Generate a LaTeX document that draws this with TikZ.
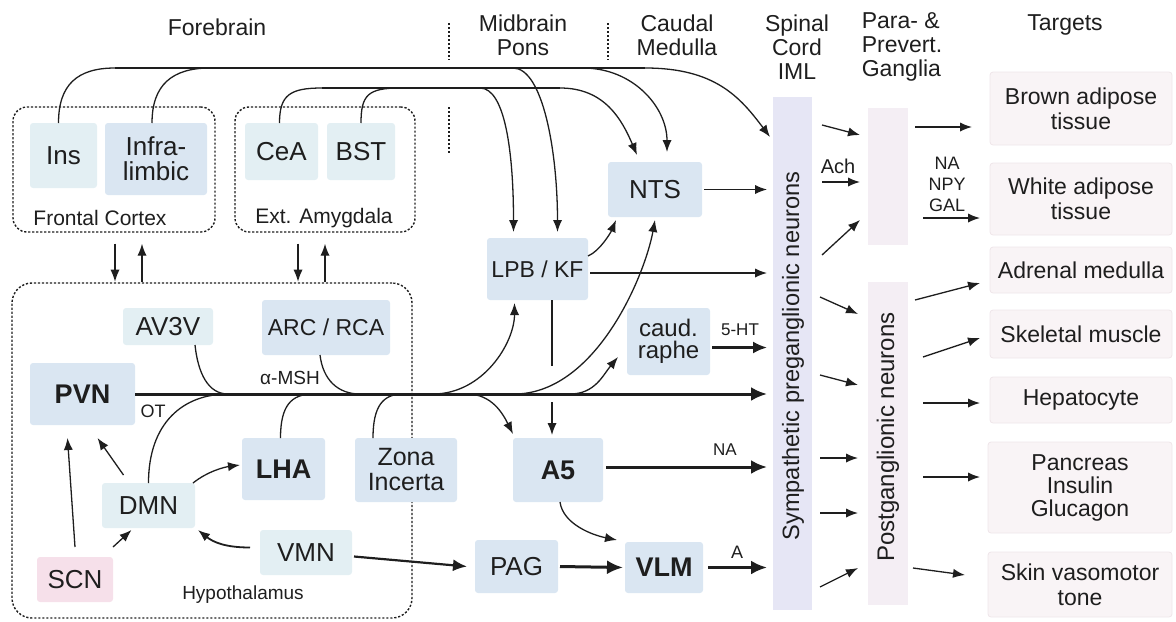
\documentclass[tikz,border=0pt]{standalone}
\usepackage{fontspec}
\setmainfont{Liberation Sans}
\usetikzlibrary{arrows.meta,calc,fit}
\definecolor{nblue}{HTML}{DAE6F2}
\definecolor{ncyan}{HTML}{E3EFF3}
\definecolor{npink}{HTML}{F6E0EA}
\definecolor{nlav}{HTML}{E6E6F5}
\definecolor{ngang}{HTML}{F4EEF4}
\definecolor{ntarg}{HTML}{F9F4F6}
\definecolor{ntargb}{HTML}{EFE6EA}
\definecolor{ink}{HTML}{1E1E1E}
\begin{document}
\begin{tikzpicture}[x=0.5pt,y=-0.5pt,
  rect/.style n args={4}{at={({(#1+#3)/2},{(#2+#4)/2})}, anchor=center,
     minimum width={0.5pt*(#3-#1)}, minimum height={0.5pt*(#4-#2)}},
  box/.style={inner sep=0pt, outer sep=0pt, rounded corners=1.5pt, align=center, text=ink},
  bl/.style={box, fill=nblue},
  cy/.style={box, fill=ncyan},
  pk/.style={box, fill=npink},
  tg/.style={box, fill=ntarg, draw=ntargb, line width=0.4pt, font=\fontsize{11.5}{12.5}\selectfont},
  big/.style={font=\fontsize{13}{12.5}\selectfont},
  mid/.style={font=\fontsize{11.5}{12}\selectfont},
  bigb/.style={font=\fontsize{13.5}{14}\selectfont\bfseries},
  hdr/.style={align=center, text=ink, inner sep=0pt, font=\fontsize{11.5}{12}\selectfont},
  lab/.style={text=ink, inner sep=0pt, font=\fontsize{9}{10}\selectfont},
  slab/.style={text=ink, inner sep=0pt, font=\fontsize{8.5}{9}\selectfont},
  vlab/.style={rotate=90, text=ink, inner sep=0pt},
  dbox/.style={inner sep=0pt, draw=ink, line width=0.7pt, dash pattern=on 1.1pt off 0.9pt},
  divl/.style={draw=ink, line width=0.7pt, dash pattern=on 1.1pt off 0.9pt},
  ln/.style={draw=ink, line width=0.65pt},
  arr/.style={ln, -{Latex[length=6pt,width=4.6pt]}},
  marr/.style={draw=ink, line width=1.1pt, -{Latex[length=7pt,width=6pt]}},
  tarr/.style={draw=ink, line width=1.5pt, -{Latex[length=8pt,width=7pt]}}
]
\useasboundingbox (0,0) rectangle (1176,621);

% headers
\node[hdr] (hfore) at (217,27) {Forebrain};
\node[hdr] (hmid) at (523,35) {Midbrain\\Pons};
\node[hdr] (hcaud) at (677,35) {Caudal\\Medulla};
\node[hdr] (hspin) at (797,47) {Spinal\\Cord\\IML};
\node[hdr, align=left] (hpara) at (902,47) {Para- \&\\Prevert.\\Ganglia};
\node[hdr] (htarg) at (1065,25) {Targets};
\draw[divl] (449,23) -- (449,60);
\draw[divl] (449,107) -- (449,153);
\draw[divl] (608,23) -- (608,60);

% dashed regions
\node[dbox, rounded corners=7pt, fit={(13,107) (215,232)}] (fc) {};
\node[dbox, rounded corners=7pt, fit={(235,107) (415,232)}] (ea) {};
\node[dbox, rounded corners=10pt, fit={(12,283) (412,618)}] (hyp) {};
\node[lab, font=\fontsize{10.5}{11}\selectfont] (fctxt) at (100,218) {Frontal Cortex};
\node[lab, font=\fontsize{10.5}{11}\selectfont] (eatxt) at (324,218) {Ext. Amygdala};
\node[lab, font=\fontsize{9.5}{10}\selectfont] (hyptxt) at (243,595) {Hypothalamus};

% forebrain nodes
\node[cy, big, rect={30}{123}{97}{188}] (ins) {Ins};
\node[bl, big, rect={105}{123}{207}{195}] (infra) {Infra-\\limbic};
\node[cy, big, rect={245}{123}{318}{180}] (cea) {CeA};
\node[cy, big, rect={327}{123}{395}{180}] (bst) {BST};

% hypothalamus nodes
\node[cy, big, rect={123}{308}{213}{345}] (av3v) {AV3V};
\node[bl, mid, rect={262}{300}{390}{355}] (arc) {ARC / RCA};
\node[bl, bigb, rect={30}{363}{135}{425}] (pvn) {PVN};
\node[bl, bigb, rect={242}{438}{325}{500}] (lha) {LHA};
\node[bl, font=\fontsize{12.5}{12.5}\selectfont, rect={355}{438}{457}{502}] (zi) {Zona\\Incerta};
\node[cy, big, rect={102}{483}{195}{528}] (dmn) {DMN};
\node[pk, big, rect={37}{557}{113}{602}] (scn) {SCN};
\node[cy, big, rect={260}{530}{352}{575}] (vmn) {VMN};

% brainstem nodes
\node[bl, mid, rect={487}{238}{588}{300}] (lpb) {LPB / KF};
\node[bl, big, rect={608}{162}{702}{217}] (nts) {NTS};
\node[bl, font=\fontsize{12}{11}\selectfont, rect={627}{308}{710}{375}] (raphe) {caud.\\raphe};
\node[bl, bigb, rect={513}{438}{603}{502}] (a5) {A5};
\node[bl, big, rect={475}{540}{558}{593}] (pag) {PAG};
\node[bl, bigb, rect={625}{542}{703}{593}] (vlm) {VLM};

% spinal and ganglia
\node[box, fill=nlav, rounded corners=0pt, rect={773}{97}{812}{610}] (spinal) {};
\node[vlab, font=\fontsize{11.8}{12}\selectfont] (spintxt) at (793,356) {Sympathetic preganglionic neurons};
\node[box, fill=ngang, rounded corners=0pt, rect={868}{108}{908}{245}] (g1) {};
\node[box, fill=ngang, rounded corners=0pt, rect={868}{282}{908}{605}] (g2) {};
\node[vlab, font=\fontsize{12}{12}\selectfont] (g2txt) at (888,437) {Postganglionic neurons};

% targets
\node[tg, rect={990}{72}{1172}{145}] (brown) {Brown adipose\\tissue};
\node[tg, rect={990}{163}{1172}{235}] (white) {White adipose\\tissue};
\node[tg, rect={990}{247}{1172}{293}] (adrenal) {Adrenal medulla};
\node[tg, rect={990}{310}{1172}{358}] (skel) {Skeletal muscle};
\node[tg, rect={990}{377}{1172}{423}] (hepa) {Hepatocyte};
\node[tg, font=\fontsize{11.5}{11.5}\selectfont, rect={988}{442}{1172}{533}] (panc) {Pancreas\\Insulin\\Glucagon};
\node[tg, rect={988}{552}{1172}{617}] (skin) {Skin vasomotor\\tone};

% ---- top projection lines
\coordinate (t1a) at (115,68);
\coordinate (t1b) at (210,68);
\coordinate (t1c) at (513,68);
\coordinate (t1d) at (583,68);
\coordinate (t1e) at (645,68);
\draw[ln] ($(ins.north)+(-5,0)$) .. controls +(0,-38) and +(-38,0) .. (t1a);
\draw[ln] ($(infra.north)+(-4,0)$) .. controls +(0,-38) and +(-38,0) .. (t1b);
\draw[ln] (t1a) -- (t1e);
\draw[arr] (t1c) .. controls +(30,0) and +(0,-80) .. ($(lpb.north)+(20,-6)$);
\draw[arr] (t1d) .. controls +(50,0) and +(0,-45) .. ($(nts.north)+(12,-10)$);
\draw[arr] (t1e) .. controls +(70,0) and +(-30,-40) .. ($(spinal.north west)+(-3,40)$);

\coordinate (t2a) at (322,88);
\coordinate (t2b) at (400,88);
\coordinate (t2c) at (480,88);
\coordinate (t2e) at (560,88);
\draw[ln] ($(cea.north)+(-2,0)$) .. controls +(0,-28) and +(-32,0) .. (t2a);
\draw[ln] (bst.north) .. controls +(0,-28) and +(-32,0) .. (t2b);
\draw[ln] (t2a) -- (t2e);
\draw[arr] (t2c) .. controls +(25,0) and +(0,-80) .. ($(lpb.north)+(-24,-6)$);
\draw[arr] (t2e) .. controls +(45,0) and +(-15,-35) .. ($(nts.north)+(-18,-7)$);

% forebrain <-> hypothalamus
\draw[arr] ($(fc.south)+(1,11)$) -- ($(fc.south)+(1,49)$);
\draw[arr] ($(fc.south)+(28,49)$) -- ($(fc.south)+(28,11)$);
\draw[arr] ($(ea.south)+(-27,11)$) -- ($(ea.south)+(-27,49)$);
\draw[arr] ($(ea.south)+(0,49)$) -- ($(ea.south)+(0,11)$);

% LPB -> A5 with gap
\draw[arr] ($(lpb.south)+(14.5,0)$) -- ($(a5.north)+(-6,-3)$);
\draw[white, line width=3pt] (552,366) -- (552,402);

% merging curves onto the main line
\coordinate (m1) at (228,394);
\coordinate (m2) at (313,394);
\coordinate (m3) at (360,394);
\coordinate (m4) at (403,394);
\coordinate (b1) at (433,394);
\coordinate (b2) at (467,394);
\coordinate (b3) at (517,394);
\coordinate (b4) at (570,394);
\draw[ln] ($(av3v.south)+(27,0)$) .. controls +(3,28) and +(-20,0) .. (m1);
\draw[ln] (dmn.north) .. controls +(0,-60) and +(-45,0) .. (m1);
\draw[ln] ($(lha.north)+(-3,0)$) .. controls +(0,-32) and +(-22,0) .. (m2);
\draw[ln] ($(arc.south)+(-6,0)$) .. controls +(3,25) and +(-22,0) .. (m3);
\draw[ln] ($(zi.north)+(-33,0)$) .. controls +(0,-32) and +(-20,0) .. (m4);
\draw[arr] (b1) .. controls +(50,0) and +(0,40) .. ($(lpb.south)+(-23,3)$);
\draw[arr] (b2) .. controls +(25,0) and +(-10,-20) .. ($(a5.north west)+(0,-4)$);
\draw[arr] (b3) .. controls +(80,-3) and +(-10,55) .. ($(nts.south)+(0,3)$);
\draw[arr] (b4) .. controls +(25,0) and +(-15,18) .. ($(raphe.south west)+(-9,-18)$);

% main line
\draw[tarr] (pvn.east) -- ($(pvn.east -| spinal.west)+(-6,0)$);
\node[lab] (ot) at (153,411) {OT};
\node[lab, font=\fontsize{9.5}{10}\selectfont] (msh) at (290,378) {α-MSH};

% brainstem outputs
\draw[arr] ($(lpb.east)+(2,4)$) -- ($(lpb.east -| spinal.west)+(-6,4)$);
\draw[arr] ($(lpb.north east)+(0,18)$) .. controls +(12,-5) and +(-5,12) .. ($(nts.south west)+(8,3)$);
\draw[arr] ($(nts.east)+(2,0)$) -- ($(nts.east -| spinal.west)+(-6,0)$);
\draw[marr] ($(raphe.east)+(2,6)$) -- ($(raphe.east -| spinal.west)+(-6,6)$);
\node[slab] (ht) at (740,330) {5-HT};
\draw[tarr] ($(a5.east)+(3,-3)$) -- ($(a5.east -| spinal.west)+(-6,-3)$);
\node[slab] (na) at (725,450) {NA};
\draw[arr] ($(a5.south)+(2,0)$) .. controls +(3,22) and +(-25,-5) .. ($(vlm.north west)+(-8,-2)$);
\draw[tarr] ($(vlm.east)+(5,0)$) -- ($(vlm.east -| spinal.west)+(-6,0)$);
\node[lab] (alab) at (737,552) {A};
\draw[marr] ($(vmn.east)+(2,4)$) -- ($(pag.west)+(-8,0)$);
\draw[tarr] ($(pag.east)+(2,0)$) -- ($(vlm.west)+(-2,0)$);

% hypothalamic arrows
\draw[arr] ($(scn.north)+(0,-10)$) -- ($(pvn.south)+(-15,13)$);
\draw[arr] ($(dmn.north)+(-25,-8)$) -- ($(pvn.south)+(15,13)$);
\draw[arr] ($(scn.north east)+(0,-10)$) -- ($(dmn.south)+(-17,2)$);
\draw[arr] ($(dmn.north east)+(-2,0)$) .. controls +(15,-12) and +(-15,2) .. ($(lha.west)+(-2,-4)$);
\draw[arr, line width=0.9pt] ($(vmn.west)+(-10,-5)$) .. controls +(-25,0) and +(15,12) .. ($(dmn.south east)+(3,2)$);

% spinal -> ganglia
\foreach \a/\b in {125/135,182/182,255/220}
  \draw[arr] ([xshift=5pt]spinal.east |- 0,\a) -- ([xshift=-4pt]g1.west |- 0,\b);
\foreach \a/\b in {297/314,375/385,458/458,513/513,587/568}
  \draw[arr] ([xshift=4pt]spinal.east |- 0,\a) -- ([xshift=-5pt]g2.west |- 0,\b);
\node[lab, font=\fontsize{10}{10}\selectfont] (ach) at (838,166) {Ach};

% ganglia -> targets
\draw[arr] ([xshift=3.5pt]g1.east |- 0,127) -- ([xshift=-9pt]brown.west |- 0,127);
\draw[arr] ([xshift=7.5pt]g1.east |- 0,218) -- ([xshift=-5pt]white.west |- 0,218);
\node[align=center, text=ink, inner sep=0pt, font=\fontsize{9}{10.5}\selectfont] (nanpy) at (947,184) {NA\\NPY\\GAL};
\draw[arr] ([xshift=3.5pt]g2.east |- 0,300) -- ([xshift=-5pt]adrenal.west |- 0,283);
\draw[arr] ([xshift=7.5pt]g2.east |- 0,357) -- ([xshift=-5pt]skel.west |- 0,338);
\draw[arr] ([xshift=7.5pt]g2.east |- 0,403) -- ([xshift=-5pt]hepa.west |- 0,403);
\draw[arr] ([xshift=7.5pt]g2.east |- 0,477) -- ([xshift=-4pt]panc.west |- 0,477);
\draw[arr] ([xshift=2.5pt]g2.east |- 0,568) -- ([xshift=-11.5pt]skin.west |- 0,575);
\end{tikzpicture}
\end{document}
